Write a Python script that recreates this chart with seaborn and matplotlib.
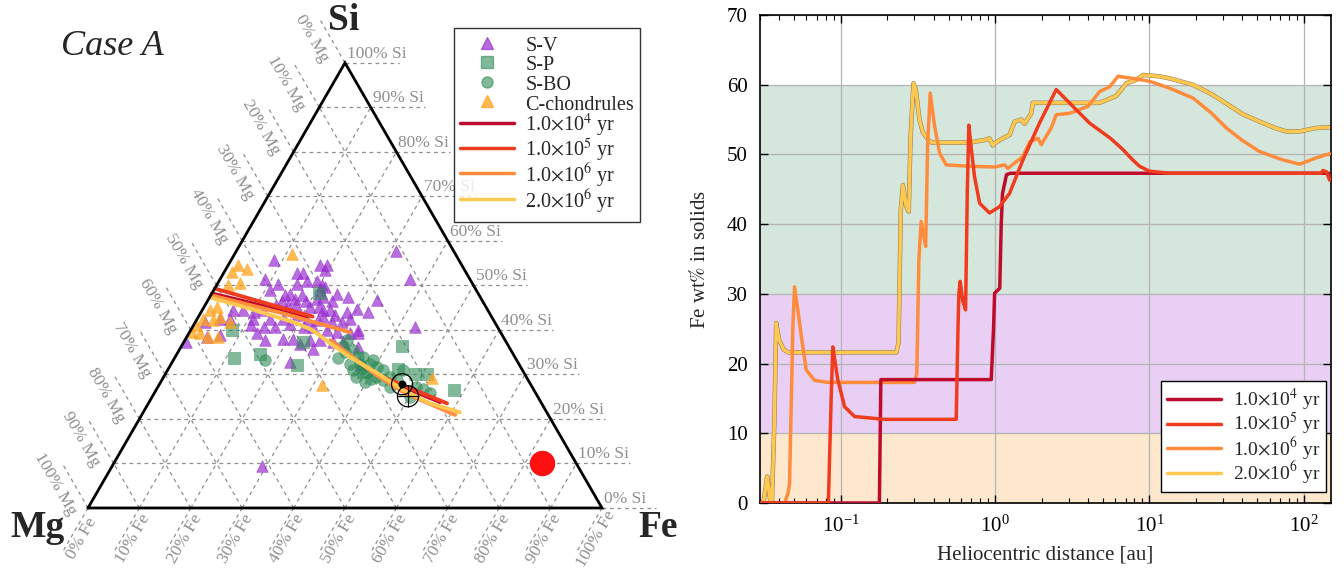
import numpy as np
import pandas as pd
import matplotlib
matplotlib.use("Agg")
import matplotlib.pyplot as plt
import matplotlib.patheffects as pe
from matplotlib.lines import Line2D
from matplotlib.ticker import LogLocator, NullFormatter
import seaborn as sns

# ---------------- ternary data: (Si %, Fe %), Mg is the rest ----------------
sv_pts = [(55.8, 8.2), (57.8, 31.1), (51.5, 36.9), (54.5, 17.9), (54.5, 19.2), (53.4, 19.4),
          (52.8, 14.2), (52.8, 15.5), (51.5, 8.7), (50.4, 11.8), (50.4, 15.4), (51.1, 17.0),
          (51.1, 19.0), (50.0, 20.5), (49.0, 20.6), (49.6, 21.3), (48.9, 11.0), (47.8, 14.4),
          (48.1, 15.2), (47.0, 16.8), (47.8, 17.7), (46.6, 19.2), (47.0, 21.0), (47.4, 22.1),
          (46.6, 24.1), (48.0, 24.4), (47.5, 26.9), (46.8, 32.8), (46.6, 14.4), (45.5, 13.9),
          (45.5, 16.2), (45.5, 17.8), (45.1, 20.6), (45.1, 22.3), (44.4, 23.6), (44.4, 24.9),
          (43.3, 26.4), (44.0, 28.3), (44.8, 29.9), (44.0, 32.5), (44.0, 10.2), (44.4, 11.9),
          (44.4, 8.0), (44.4, 6.1), (42.5, 6.4), (42.5, 4.4), (41.8, 1.9), (42.5, 10.9),
          (42.5, 14.1), (42.5, 16.7), (43.3, 19.0), (42.2, 21.5), (42.2, 23.7), (42.9, 24.3),
          (41.8, 26.5), (41.8, 28.5), (42.5, 29.7), (39.9, 32.6), (41.0, 11.3), (40.7, 13.8),
          (40.7, 16.0), (41.4, 18.6), (40.7, 21.6), (40.7, 23.5), (39.9, 26.5), (39.5, 28.6),
          (39.2, 31.4), (39.2, 33.0), (40.7, 43.3), (38.8, 6.3), (38.4, 3.9), (37.3, 0.5),
          (39.2, 13.2), (37.7, 15.6), (38.0, 19.0), (38.0, 20.9), (36.9, 22.8), (37.7, 24.4),
          (37.7, 26.3), (37.3, 29.1), (37.3, 31.0), (36.2, 34.5), (32.8, 22.9), (35.8, 25.9),
          (32.1, 36.9), (9.4, 29.1)]
sp_pts = [(48.3, 20.7), (39.9, 8.0), (33.8, 11.5), (34.5, 16.2), (32.1, 24.6), (37.3, 23.2),
          (36.3, 42.9), (30.6, 38.3), (31.3, 44.7), (30.2, 48.5), (30.0, 50.9), (26.6, 57.9)]
sbo_pts = [(33.3, 17.8), (33.8, 31.8), (37.7, 31.5), (36.5, 31.4), (32.4, 34.8), (30.9, 36.2),
           (29.4, 37.5), (28.3, 39.7), (33.9, 36.6), (32.4, 38.6), (31.7, 40.3), (30.9, 42.0),
           (29.4, 44.0), (28.7, 43.1), (28.7, 45.7), (29.4, 41.4), (30.9, 45.9), (27.2, 50.3),
           (26.8, 51.8), (25.9, 53.6), (30.6, 38.9), (35.4, 33.9), (32.4, 36.7), (33.2, 38.9),
           (27.2, 45.1), (25.0, 50.2), (35.0, 32.5), (34.0, 35.5), (31.5, 37.5), (29.0, 40.5)]
cch_pts = [(57.0, 11.1), (54.5, 2.0), (53.0, 1.5), (53.6, 4.1), (50.5, 4.3), (50.0, 2.3),
           (42.9, 4.2), (44.4, 1.5), (42.5, 1.2), (42.3, 3.2), (41.0, 0.6), (39.5, 0.4),
           (39.2, 2.2), (38.4, 4.2), (38.4, 6.1), (27.6, 31.7), (29.1, 52.3), (41.8, 6.7),
           (45.1, 2.5)]
red_dot = (10.1, 83.3)
ref_dot = (27.8, 47.2)
ref_cross = (25.1, 49.7)

# ternary trajectories (segments of (Si %, Fe %))
tern_1e4 = [[(48.2, 0.0), (43.0, 21.1)], [(28.0, 45.7), (23.8, 56.6)]]
tern_1e5 = [[(49.3, 0.0), (43.0, 22.2)], [(29.4, 42.7), (23.5, 58.1)]]
tern_1e6 = [[(47.8, 0.0), (43.9, 15.4), (39.5, 31.2)],
            [(37.7, 28.3), (29.8, 41.3), (25.8, 48.8), (20.9, 61.0)]]
tern_2e6 = [[(47.3, 0.0), (44.8, 9.1), (41.5, 19.9), (39.9, 23.8), (37.0, 28.6), (33.9, 34.0),
             (30.3, 41.1), (26.5, 48.1), (23.5, 54.8), (21.5, 61.6)]]

# ---------------- radial profiles: distance [au], Fe wt% ----------------
r_1e4 = [0.029, 0.178, 0.182, 0.944, 0.977, 0.993, 1.072, 1.096, 1.117, 1.186, 1.26, 144.5, 147]
fe_1e4 = [0, 0, 17.7, 17.7, 25, 30.1, 30.8, 40, 44.4, 47.1, 47.3, 47.3, 46.8]

r_1e5 = [0.029, 0.0832, 0.0867, 0.0889, 0.0923, 0.0957, 0.106, 0.123, 0.192, 0.56, 0.575, 0.583,
         0.594, 0.617, 0.644, 0.661, 0.676, 0.70, 0.736, 0.794, 0.92, 1.067, 1.24, 1.514, 1.94,
         2.49, 4.09, 5.6, 6.73, 7.8, 8.63, 10.0, 13.5, 129, 133, 140, 147]
fe_1e5 = [0, 0, 15, 22.4, 20, 17.7, 13.8, 12.4, 12.0, 12.0, 25, 30.1,
          31.8, 29, 27.7, 45, 54.2, 51, 46.8, 43.0, 41.6, 42.5, 44.4, 49.2, 54.5,
          59.3, 54.5, 52.3, 50.7, 49.2, 48.3, 47.6, 47.3, 47.3, 47.7, 47.5, 46.3]

r_1e6 = [0.029, 0.0433, 0.0457, 0.0466, 0.049, 0.0502, 0.0525, 0.0556, 0.0598, 0.0676, 0.0826,
         0.301, 0.311, 0.321, 0.332, 0.347, 0.355, 0.366, 0.380, 0.406, 0.437, 0.482, 0.682,
         0.993, 1.153, 1.21, 1.514, 1.675, 1.897, 1.991, 2.31, 2.49, 3.04, 4.0, 4.75, 5.52,
         6.25, 7.82, 10.0, 13.5, 19.1, 25.0, 31.5, 40.0, 51.8, 73.3, 94.0, 120, 147]
fe_1e6 = [0, 0, 1.5, 2.8, 25.3, 31.0, 28, 23.9, 19.1, 17.6, 17.3,
          17.3, 18.6, 34.9, 40.4, 38, 36.8, 51.6, 58.8, 54.0, 50.2, 48.5, 48.3,
          48.2, 48.5, 48.0, 49.7, 51.8, 52.3, 51.4, 53.8, 55.7, 55.9, 56.9, 59.0, 59.7,
          61.2, 60.9, 60.5, 59.5, 58.1, 56.0, 53.8, 52.0, 50.4, 49.2, 48.6, 49.5, 50.1]

r_2e6 = [0.029, 0.0316, 0.0334, 0.0351, 0.0359, 0.0372, 0.0382, 0.0398, 0.0427, 0.0457, 0.229,
         0.237, 0.245, 0.253, 0.266, 0.276, 0.283, 0.296, 0.305, 0.324, 0.340, 0.372, 0.389,
         0.684, 0.871, 0.920, 0.966, 0.991, 1.122, 1.24, 1.337, 1.479, 1.552, 1.714, 1.758,
         4.75, 6.10, 7.08, 8.22, 9.08, 11.6, 13.5, 19.1, 25.0, 31.5, 40.0, 51.8, 65.0, 77.1,
         94.0, 120, 147]
fe_2e6 = [0, 0, 3.8, 0, 0.5, 12, 25.8, 23.5, 22.0, 21.6, 21.6,
          23, 42, 45.6, 42.5, 41.8, 52, 60.2, 59.5, 55, 53.2, 52.0, 51.7,
          51.7, 52.1, 52.3, 51.3, 51.6, 52.3, 52.8, 54.7, 55.0, 54.4, 55.9, 57.4,
          57.4, 58.4, 60.2, 60.7, 61.4, 61.2, 60.9, 60.0, 58.7, 57.3, 55.8, 54.7, 53.8, 53.3,
          53.3, 53.8, 53.9]

ages = [r"1.0$\times$10$^4$ yr", r"1.0$\times$10$^5$ yr", r"1.0$\times$10$^6$ yr", r"2.0$\times$10$^6$ yr"]
age_colors = ["#be0a2c", "#f03c1e", "#ff8c3c", "#ffc850"]
bands = [(0, 10, "#fde8cd"), (10, 30, "#e8cff3"), (30, 60, "#d5e6dc")]

c_sv, c_sp, c_cch = "#9b30d0", "#2e8b57", "#ffa31a"
grey = "#8f8f8f"

sns.set_theme(style="ticks")
plt.rcParams["font.family"] = ["Liberation Serif", "DejaVu Serif"]
plt.rcParams["mathtext.fontset"] = "stix"

H = np.sqrt(3) / 2


def to_xy(si, fe):
    si = np.asarray(si, dtype=float) / 100
    fe = np.asarray(fe, dtype=float) / 100
    return fe + si / 2, si * H


def pts_frame(pts):
    si, fe = zip(*pts)
    x, y = to_xy(si, fe)
    return pd.DataFrame({"x": x, "y": y})


def seg_frame(segs):
    rows = []
    for i, seg in enumerate(segs):
        for si, fe in seg:
            x, y = to_xy(si, fe)
            rows.append((i, float(x), float(y)))
    return pd.DataFrame(rows, columns=["seg", "x", "y"])


fig = plt.figure(figsize=(13.44, 5.71), dpi=100)

# ======================= left: ternary =======================
ax = fig.add_axes([0, 0, 0.5, 1])
ax.set_xlim(-0.1712, 1.1362)
ax.set_ylim(-0.1226, 0.9883)
ax.axis("off")

dash = (0, (3, 3))
levels = np.arange(0, 101, 10)
for v in levels:
    if 0 < v < 100:
        x, y = to_xy([v, v], [0, 100 - v])
        ax.plot(x, y, ls=dash, color=grey, lw=0.9, zorder=1)
        x, y = to_xy([0, 100 - v], [v, v])
        ax.plot(x, y, ls=dash, color=grey, lw=0.9, zorder=1)
        x, y = to_xy([0, 100 - v], [100 - v, 0])
        ax.plot(x, y, ls=dash, color=grey, lw=0.9, zorder=1)
    # Si labels (right side)
    ex, ey = to_xy(v, 100 - v)
    ax.plot([ex, ex + 0.105], [ey, ey], ls=dash, color=grey, lw=0.9)
    ax.text(ex + 0.004, ey + 0.002, f"{v}% Si", ha="left", va="bottom", color=grey, fontsize=12.5)
    # Mg labels (left side), Mg = v -> Si = 100 - v
    mx, my = to_xy(100 - v, 0)
    ax.plot([mx, mx - 0.05], [my, my + 0.1 * H], ls=dash, color=grey, lw=0.9)
    ax.text(mx - 0.064, my + 0.047, f"{v}% Mg", ha="center", va="center", rotation=-60,
            rotation_mode="anchor", color=grey, fontsize=12.5)
    # Fe labels (bottom)
    fx, fy = to_xy(0, v)
    ax.plot([fx, fx - 0.05], [fy, fy - 0.1 * H], ls=dash, color=grey, lw=0.9)
    ax.text(fx - 0.012, fy - 0.06, f"{v}% Fe", ha="center", va="center", rotation=60,
            rotation_mode="anchor", color=grey, fontsize=12.5)

tri_x, tri_y = to_xy([0, 0, 100, 0], [0, 100, 0, 0])
ax.plot(tri_x, tri_y, color="black", lw=2.0, zorder=5, solid_joinstyle="miter")

sk = dict(ax=ax, legend=False, zorder=3)
d = pts_frame(sv_pts)
sns.scatterplot(data=d, x="x", y="y", marker="^", s=70, color=c_sv, alpha=0.7, edgecolor=c_sv, linewidth=0.5, **sk)
d = pts_frame(sp_pts)
sns.scatterplot(data=d, x="x", y="y", marker="s", s=70, color=c_sp, alpha=0.6, edgecolor=c_sp, linewidth=0.5, **sk)
d = pts_frame(sbo_pts)
sns.scatterplot(data=d, x="x", y="y", marker="o", s=70, color=c_sp, alpha=0.6, edgecolor=c_sp, linewidth=0.5, **sk)
d = pts_frame(cch_pts)
sns.scatterplot(data=d, x="x", y="y", marker="^", s=70, color=c_cch, alpha=0.75, edgecolor=c_cch, linewidth=0.5, **sk)

for segs, col in zip([tern_1e4, tern_1e5, tern_1e6, tern_2e6], age_colors):
    sns.lineplot(data=seg_frame(segs), x="x", y="y", units="seg", estimator=None, sort=False,
                 color=col, lw=2.8, ax=ax, legend=False, zorder=4)

x, y = to_xy(*red_dot)
ax.scatter([x], [y], s=300, color="#ff1010", zorder=6)
x, y = to_xy(*ref_dot)
ax.scatter([x], [y], s=230, facecolors="none", edgecolors="black", linewidths=0.9, zorder=6)
ax.scatter([x], [y], s=22, color="black", zorder=6)
x, y = to_xy(*ref_cross)
ax.scatter([x], [y], s=230, facecolors="none", edgecolors="black", linewidths=0.9, zorder=6)
ax.scatter([x], [y], s=230, marker="+", color="black", linewidths=0.9, zorder=6)

ax.text(0.0467, 0.8969, "Case A", style="italic", fontsize=26, ha="center", va="center")
ax.text(0.498, 0.9475, "Si", fontweight="bold", fontsize=27, ha="center", va="center")
ax.text(-0.0992, -0.037, "Mg", fontweight="bold", fontsize=27, ha="center", va="center")
ax.text(1.109, -0.037, "Fe", fontweight="bold", fontsize=27, ha="center", va="center")

handles = [
    Line2D([], [], ls="none", marker="^", ms=8, color=c_sv, alpha=0.7),
    Line2D([], [], ls="none", marker="s", ms=8, color=c_sp, alpha=0.6),
    Line2D([], [], ls="none", marker="o", ms=8, color=c_sp, alpha=0.6),
    Line2D([], [], ls="none", marker="^", ms=8, color=c_cch, alpha=0.75),
] + [Line2D([], [], color=c, lw=2.5) for c in age_colors]
labels = ["S-V", "S-P", "S-BO", "C-chondrules"] + ages
leg = ax.legend(handles, labels, loc="upper right", bbox_to_anchor=(640 / 672, 1 - 28 / 571),
                borderaxespad=0, fontsize=14.5, frameon=True, fancybox=False, edgecolor="black",
                labelspacing=-0.12, handlelength=2.7, handleheight=1.17, borderpad=0.3,
                handletextpad=0.55)
leg.get_frame().set_linewidth(1.0)
leg.set_zorder(10)

# ======================= right: Fe wt% vs distance =======================
ax2 = fig.add_axes([760 / 1344, 68 / 571, 571 / 1344, 488 / 571])
ax2.set_xscale("log")
for lo, hi, col in bands:
    ax2.axhspan(lo, hi, color=col, lw=0, zorder=0)

series = [(r_1e4, fe_1e4), (r_1e5, fe_1e5), (r_1e6, fe_1e6), (r_2e6, fe_2e6)]
zorders = [4, 5, 3, 2]
for (r, fe), lab, col, z in zip(series, ages, age_colors, zorders):
    kw = {}
    if col == "#ffc850":
        kw["path_effects"] = [pe.Stroke(linewidth=3.2, foreground="#8a7a50"), pe.Normal()]
    sns.lineplot(x=r, y=fe, estimator=None, sort=False, color=col, lw=2.5, label=lab,
                 ax=ax2, zorder=z, **kw)

ax2.set_xlim(0.03, 150)
ax2.set_ylim(0, 70)
ax2.set_yticks(np.arange(0, 71, 10))
ax2.xaxis.set_major_locator(LogLocator(base=10, numticks=10))
ax2.xaxis.set_minor_locator(LogLocator(base=10, subs=np.arange(2, 10) * 1.0, numticks=20))
ax2.xaxis.set_minor_formatter(NullFormatter())
ax2.grid(True, which="major", color="#b4b4b4", lw=0.9)
ax2.set_axisbelow(True)
ax2.tick_params(which="both", direction="in", top=True, right=True, labelsize=15, colors="black")
ax2.tick_params(which="major", length=6, width=1)
ax2.tick_params(which="minor", length=3.5, width=0.8)
ax2.tick_params(axis="y", pad=9)
ax2.tick_params(axis="x", pad=9)
for sp in ax2.spines.values():
    sp.set_color("black")
    sp.set_linewidth(1.2)
ax2.set_xlabel("Heliocentric distance [au]", fontsize=15, labelpad=6)
ax2.set_ylabel(r"Fe wt$\%$ in solids", fontsize=15, labelpad=12)

leg2 = ax2.legend(loc="lower right", bbox_to_anchor=(0.991, 0.0225), borderaxespad=0, fontsize=14,
                  frameon=True, fancybox=False, edgecolor="black", labelspacing=-0.1,
                  handlelength=2.8, borderpad=0.3, handletextpad=0.6)
leg2.get_frame().set_linewidth(1.0)
leg2.get_frame().set_alpha(1)
for ln in leg2.get_lines():
    ln.set_path_effects([])

fig.savefig("out.png", dpi=100)
